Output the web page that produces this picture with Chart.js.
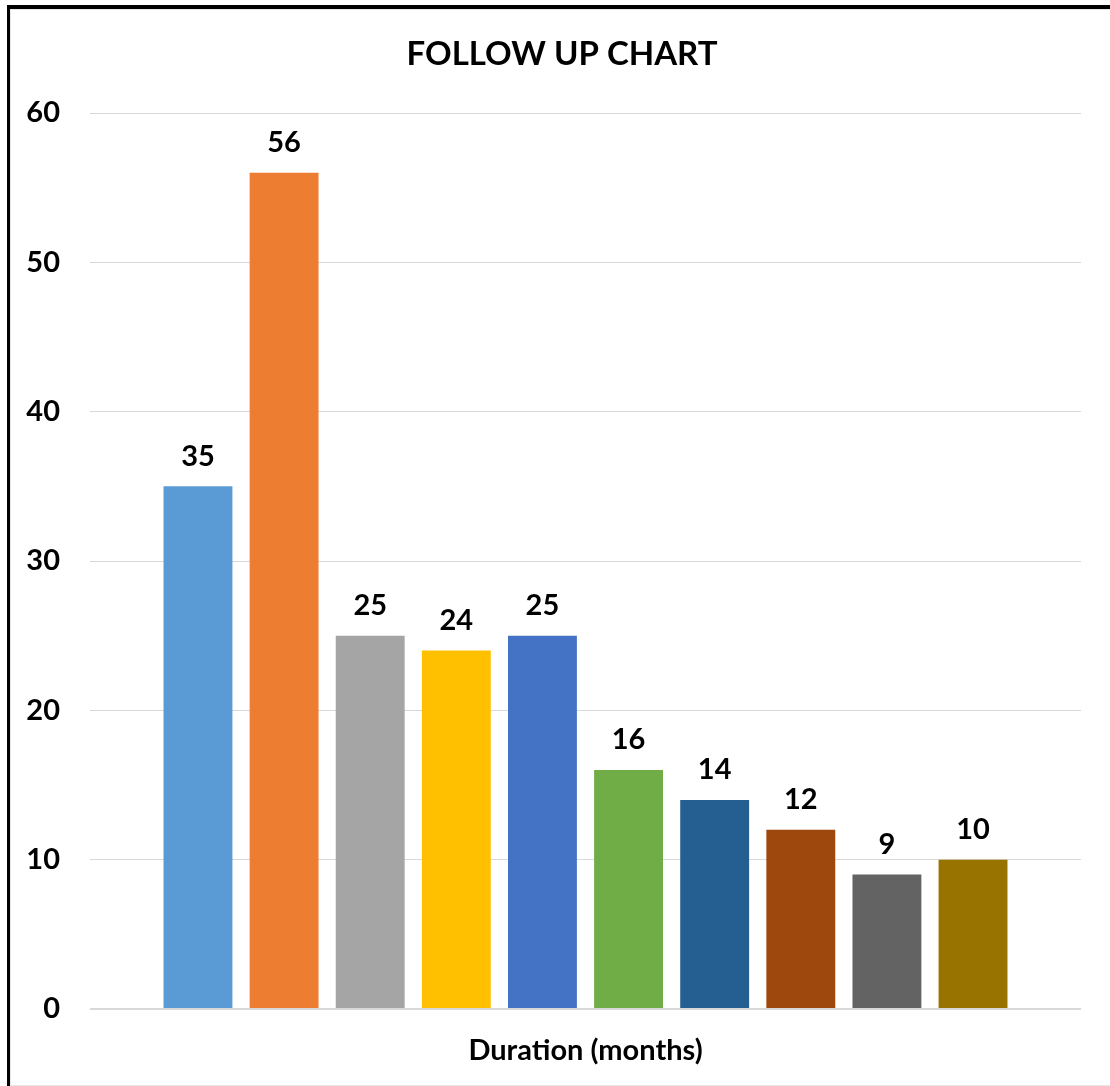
<!DOCTYPE html>
<html>
<head>
<meta charset="utf-8">
<script src="https://cdn.jsdelivr.net/npm/chart.js@4.4.0/dist/chart.umd.min.js"></script>
<style>
    html, body { margin: 0; padding: 0; background: #fff; }
    #wrap { position: absolute; left: 0; top: 0; width: 1110px; height: 1086px; }
</style>
</head>
<body>
<div id="wrap"><canvas id="followUpChart" width="1110" height="1086"></canvas></div>
<script>
// Chart data
const categories = ['Duration (months)'];
const seriesNames = ['S1', 'S2', 'S3', 'S4', 'S5', 'S6', 'S7', 'S8', 'S9', 'S10'];
const seriesValues = [35, 56, 25, 24, 25, 16, 14, 12, 9, 10];
const yTicks = [0, 10, 20, 30, 40, 50, 60];

const palette = ['#5B9BD5', '#ED7D31', '#A5A5A5', '#FFC000', '#4472C4',
                 '#70AD47', '#255E91', '#9E480E', '#636363', '#997300'];

const fontFamily = 'Lato, "Open Sans", sans-serif';

// White background and the frame round the chart
const framePlugin = {
    id: 'frame',
    beforeDraw: function(chart) {
        const ctx = chart.ctx;
        ctx.save();
        ctx.fillStyle = '#fff';
        ctx.fillRect(0, 0, chart.width, chart.height);
        ctx.fillStyle = '#000';
        ctx.fillRect(7, 5, chart.width - 7, 4);
        ctx.fillRect(7, 5, 3, chart.height - 5);
        ctx.fillStyle = '#e6e6e6';
        ctx.fillRect(10, 9, chart.width - 10, 1);
        ctx.fillRect(10, 9, 1, chart.height - 9);
        ctx.fillRect(10, chart.height - 1, chart.width - 10, 1);
        ctx.restore();
    }
};

// Value labels above each bar
const valueLabels = {
    id: 'valueLabels',
    afterDatasetsDraw: function(chart) {
        const ctx = chart.ctx;
        ctx.save();
        ctx.fillStyle = '#000';
        ctx.font = 'bold 29px ' + fontFamily;
        ctx.textAlign = 'center';
        ctx.textBaseline = 'middle';
        chart.data.datasets.forEach(function(ds, i) {
            chart.getDatasetMeta(i).data.forEach(function(bar, j) {
                ctx.fillText(String(ds.data[j]), bar.x, bar.y - 30);
            });
        });
        ctx.restore();
    }
};

const datasets = seriesValues.map(function(v, i) {
    return {
        label: seriesNames[i],
        data: [v],
        backgroundColor: palette[i],
        borderWidth: 0,
        categoryPercentage: 0.869,
        barPercentage: 0.80
    };
});

new Chart(document.getElementById('followUpChart').getContext('2d'), {
    type: 'bar',
    data: {
        labels: categories,
        datasets: datasets
    },
    options: {
        responsive: false,
        animation: false,
        layout: {
            padding: { top: 10, right: 0, bottom: 0, left: 14 }
        },
        plugins: {
            legend: { display: false },
            tooltip: { enabled: false },
            title: {
                display: true,
                text: 'FOLLOW UP CHART',
                color: '#000',
                font: { family: fontFamily, size: 33, weight: 'bold', lineHeight: 1.2 },
                padding: { top: 25, bottom: 38.4 }
            }
        },
        scales: {
            x: {
                afterFit: function(scale) {
                    scale.height = 77;
                },
                grid: { display: false, drawTicks: false },
                border: { display: false },
                ticks: {
                    color: '#000',
                    padding: 24,
                    font: { family: fontFamily, size: 29, weight: 'bold', lineHeight: 1.2 }
                }
            },
            y: {
                min: 0,
                max: 60,
                afterBuildTicks: function(scale) {
                    scale.ticks = yTicks.map(function(v) { return { value: v }; });
                },
                afterFit: function(scale) {
                    scale.width = 76;
                },
                grid: {
                    drawTicks: false,
                    color: '#d9d9d9',
                    lineWidth: function(c) { return c.tick && c.tick.value === 0 ? 2 : 1; }
                },
                border: { display: false },
                ticks: {
                    color: '#000',
                    padding: 30,
                    font: { family: fontFamily, size: 29, weight: 'bold' }
                }
            },
            // empty right-hand margin so the plot ends where the reference does
            yRight: {
                position: 'right',
                afterFit: function(scale) {
                    scale.width = 29;
                },
                grid: { display: false, drawTicks: false },
                border: { display: false },
                ticks: { display: false }
            }
        }
    },
    plugins: [framePlugin, valueLabels]
});
</script>
</body>
</html>
